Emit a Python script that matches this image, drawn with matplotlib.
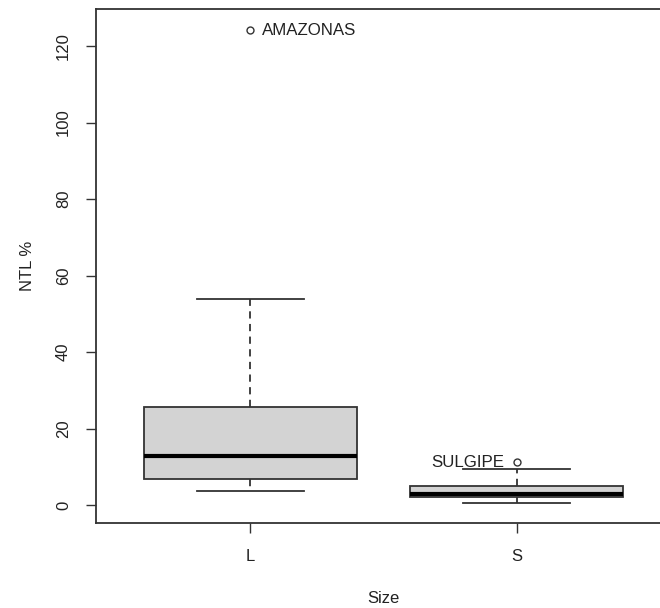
import matplotlib
matplotlib.use("Agg")
import matplotlib.pyplot as plt

plt.rcParams["font.family"] = ["Liberation Sans", "DejaVu Sans"]

# box statistics
groups = ["L", "S"]
medians = [12.8, 3.0]
q1 = [6.8, 2.1]
q3 = [25.6, 5.0]
whis_low = [3.6, 0.4]
whis_high = [53.9, 9.3]
outliers = [[124.2], [11.2]]
outlier_names = ["AMAZONAS", "SULGIPE"]

stats = []
for i in range(len(groups)):
    stats.append({
        "label": groups[i],
        "med": medians[i],
        "q1": q1[i],
        "q3": q3[i],
        "whislo": whis_low[i],
        "whishi": whis_high[i],
        "fliers": outliers[i],
    })

fig = plt.figure(figsize=(6.6, 6.08), dpi=100)
ax = fig.add_axes([96 / 660, 85 / 608, 575 / 660, 514 / 608])

edge = "#333333"
txt = "#222222"
ax.bxp(stats, positions=[1, 2], widths=0.8, patch_artist=True,
       boxprops=dict(facecolor="#d3d3d3", edgecolor=edge, linewidth=1.3),
       medianprops=dict(color="black", linewidth=3.0),
       whiskerprops=dict(color=edge, linewidth=1.3, linestyle=(0, (4, 3))),
       capprops=dict(color=edge, linewidth=1.3),
       capwidths=0.4,
       flierprops=dict(marker="o", markersize=5, markerfacecolor="none",
                       markeredgecolor=edge, markeredgewidth=1.0))

# names of the outliers
ax.text(1.045, outliers[0][0], outlier_names[0], fontsize=12.2, va="center",
        ha="left", color=txt)
ax.text(1.955, outliers[1][0], outlier_names[1], fontsize=12.2, va="center",
        ha="right", color=txt)

ax.set_xlim(0.42, 2.58)
ax.set_ylim(-4.7, 129.7)
ax.set_yticks([0, 20, 40, 60, 80, 100, 120])
ax.set_xticks([1, 2])
ax.set_xticklabels(groups)
ax.tick_params(axis="both", labelsize=12, length=7, width=1, color=edge,
               labelcolor=txt)
ax.tick_params(axis="x", pad=12)
ax.tick_params(axis="y", pad=11)
for lab in ax.get_yticklabels():
    lab.set_rotation(90)
    lab.set_va("center")
ax.set_xlabel("Size", fontsize=12, labelpad=19, color=txt)
ax.set_ylabel("NTL %", fontsize=12, labelpad=15, color=txt)

for s in ax.spines.values():
    s.set_color(edge)
    s.set_linewidth(1.3)

fig.savefig("out.png", dpi=100)
